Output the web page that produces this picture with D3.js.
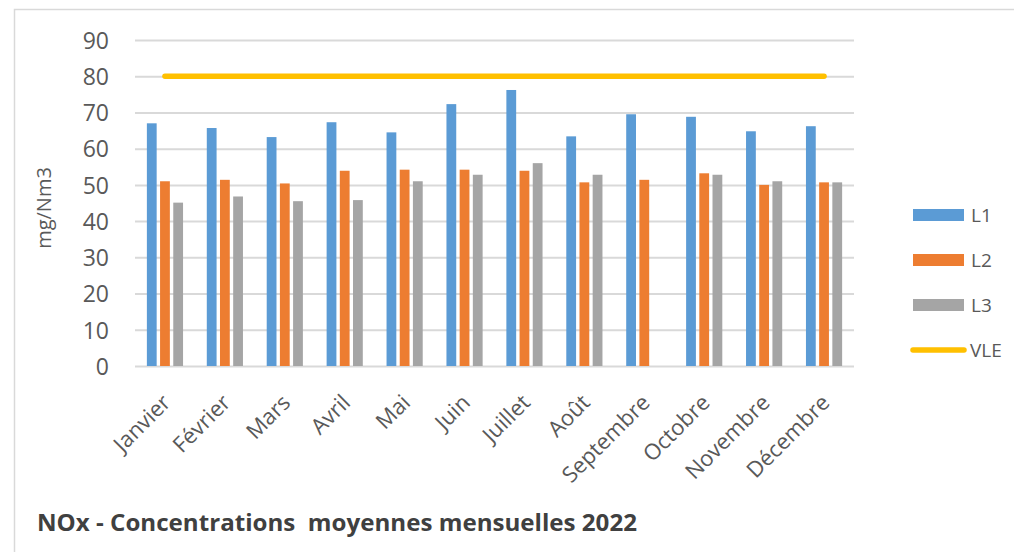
<!DOCTYPE html>
<html>
<head>
<meta charset="utf-8">
<script src="https://cdn.jsdelivr.net/npm/d3@7"></script>
<style>
  html, body { margin: 0; padding: 0; background: #fff; }
  svg { display: block; }
</style>
</head>
<body>
<svg id="chart" width="1014" height="552"></svg>
<script>
// Monthly NOx concentrations per line (mg/Nm3), 2022
const months = ["Janvier", "Février", "Mars", "Avril", "Mai", "Juin",
                "Juillet", "Août", "Septembre", "Octobre", "Novembre", "Décembre"];
const seriesNames = ["L1", "L2", "L3"];
const L1 = [67.0, 65.7, 63.2, 67.3, 64.5, 72.3, 76.2, 63.4, 69.5, 68.8, 64.8, 66.2];
const L2 = [51.0, 51.4, 50.4, 53.9, 54.2, 54.2, 53.9, 50.7, 51.4, 53.2, 50.0, 50.7];
const L3 = [45.1, 46.8, 45.5, 45.8, 51.0, 52.8, 56.0, 52.8, null, 52.8, 51.0, 50.7];
const VLE = 80;
const yTicks = [0, 10, 20, 30, 40, 50, 60, 70, 80, 90];
const seriesColors = ["#5b9bd5", "#ed7d31", "#a5a5a5"];
const vleColor = "#ffc000";

const values = [L1, L2, L3];
const svg = d3.select("#chart");
const font = "'Open Sans', 'DejaVu Sans', sans-serif";

// chart frame
svg.append("rect")
  .attr("x", 14.5).attr("y", 9.5)
  .attr("width", 1100).attr("height", 700)
  .attr("fill", "none").attr("stroke", "#d9d9d9").attr("stroke-width", 1.5);

const plot = { left: 135, right: 854, top: 40, bottom: 366 };

const x0 = d3.scaleBand().domain(months).range([plot.left, plot.right]);
const x1 = d3.scaleBand().domain(seriesNames)
  .range([0, x0.bandwidth()])
  .paddingInner(0.258).paddingOuter(0.9);
const y = d3.scaleLinear().domain([0, 90]).range([plot.bottom, plot.top]);

// gridlines + y labels
const yAxis = d3.axisLeft(y).tickValues(yTicks)
  .tickSize(-(plot.right - plot.left)).tickPadding(26);
const gy = svg.append("g").attr("transform", `translate(${plot.left},0)`).call(yAxis);
gy.select(".domain").remove();
gy.selectAll(".tick line").attr("stroke", "#d9d9d9").attr("stroke-width", 2);
gy.selectAll(".tick text")
  .attr("fill", "#595959").attr("font-family", font).attr("font-size", 23)
  .attr("dy", "0.36em");

// bars
const groups = svg.append("g").selectAll("g")
  .data(months).join("g")
  .attr("transform", d => `translate(${x0(d)},0)`);
groups.selectAll("rect")
  .data((m, i) => seriesNames.map((s, k) => ({ s, k, v: values[k][i] })).filter(d => d.v != null))
  .join("rect")
  .attr("x", d => x1(d.s))
  .attr("width", x1.bandwidth())
  .attr("y", d => y(d.v))
  .attr("height", d => y(0) - y(d.v))
  .attr("fill", d => seriesColors[d.k]);

// limit value line
const vleLine = d3.line().x(d => x0(d) + x0.bandwidth() / 2).y(() => y(VLE));
svg.append("path")
  .attr("d", vleLine([months[0], months[months.length - 1]]))
  .attr("stroke", vleColor).attr("stroke-width", 5.5)
  .attr("stroke-linecap", "round").attr("fill", "none");

// x labels
const xAxis = d3.axisBottom(x0).tickSize(0).tickPadding(0);
const gx = svg.append("g").attr("transform", `translate(0,${plot.bottom})`).call(xAxis);
gx.select(".domain").remove();
gx.selectAll(".tick text")
  .attr("fill", "#595959").attr("font-family", font).attr("font-size", 22)
  .attr("text-anchor", "end")
  .attr("y", 0).attr("dy", 0)
  .attr("transform", "translate(7,38) rotate(-45)");

// y axis title
svg.append("text")
  .attr("transform", "translate(51,208) rotate(-90)")
  .attr("text-anchor", "middle")
  .attr("fill", "#595959").attr("font-family", font).attr("font-size", 20)
  .text("mg/Nm3");

// legend
const legend = svg.append("g");
const legendRows = [...seriesNames, "VLE"];
const ly = d3.scalePoint().domain(legendRows).range([215, 350]);
legendRows.forEach((name, k) => {
  if (k < 3) {
    legend.append("rect")
      .attr("x", 913).attr("y", ly(name) - 6)
      .attr("width", 51).attr("height", 12)
      .attr("fill", seriesColors[k]);
  } else {
    legend.append("line")
      .attr("x1", 913).attr("x2", 964)
      .attr("y1", ly(name)).attr("y2", ly(name))
      .attr("stroke", vleColor).attr("stroke-width", 5.5)
      .attr("stroke-linecap", "round");
  }
  legend.append("text")
    .attr("x", k < 3 ? 971 : 970).attr("y", ly(name)).attr("dy", "0.36em")
    .attr("fill", "#595959").attr("font-family", font).attr("font-size", 19)
    .text(name);
});

// title
svg.append("text")
  .attr("x", 37).attr("y", 531)
  .attr("fill", "#404040").attr("font-family", font)
  .attr("font-size", 24).attr("font-weight", "bold")
  .attr("textLength", 600).attr("lengthAdjust", "spacingAndGlyphs")
  .attr("xml:space", "preserve")
  .text("NOx - Concentrations  moyennes mensuelles 2022");
</script>
</body>
</html>
